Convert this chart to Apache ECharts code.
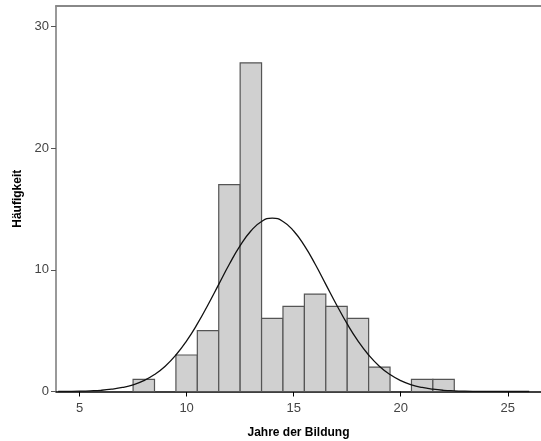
<!DOCTYPE html>
<html>
<head>
<meta charset="utf-8">
<script src="https://cdn.jsdelivr.net/npm/echarts@6/dist/echarts.min.js"></script>
<style>
  html, body { margin: 0; padding: 0; background: #fff; }
  #chart { width: 541px; height: 441px; }
</style>
</head>
<body>
<div id="chart"></div>
<script>
// Jahre der Bildung (Klassenmitte) und Häufigkeit
const years = [8, 10, 11, 12, 13, 14, 15, 16, 17, 18, 19, 21, 22]
const counts = [1, 3, 5, 17, 27, 6, 7, 8, 7, 6, 2, 1, 1]

// Normalverteilungskurve
const curveX = [4, 4.5, 5, 5.5, 6, 6.5, 7, 7.5, 8, 8.5, 9, 9.5, 10, 10.5, 11, 11.5, 12, 12.5, 13, 13.5, 14,
  14.5, 15, 15.5, 16, 16.5, 17, 17.5, 18, 18.5, 19, 19.5, 20, 20.5, 21, 21.5, 22, 22.5, 23, 23.5, 24, 25, 26]
const curveY = [0.007, 0.014, 0.028, 0.055, 0.10, 0.19, 0.33, 0.55, 0.89, 1.39, 2.08, 3.00, 4.16, 5.55, 7.13,
  8.80, 10.47, 11.98, 13.19, 13.97, 14.24, 13.97, 13.19, 11.98, 10.47, 8.80, 7.13, 5.55, 4.16, 3.00, 2.08,
  1.39, 0.89, 0.55, 0.33, 0.19, 0.10, 0.055, 0.028, 0.014, 0.007, 0.0013, 0.0002]

const xTicks = [5, 10, 15, 20, 25]
const yTicks = [0, 10, 20, 30]

const chart = echarts.init(document.getElementById('chart'))

const labelStyle = {
  color: '#444',
  fontSize: 13,
  fontFamily: 'Liberation Sans, Arial, sans-serif',
}

const option = {
  animation: false,
  grid: { left: 56, right: 0, top: 6, bottom: 49.5, outerBoundsMode: 'none', containLabel: false },
  xAxis: [
    {
      type: 'value',
      min: 3.9,
      max: 26.55,
      name: 'Jahre der Bildung',
      nameLocation: 'middle',
      nameGap: 35,
      nameTextStyle: {
        color: '#000',
        fontSize: 12,
        fontWeight: 'bold',
        fontFamily: 'Liberation Sans, Arial, sans-serif',
      },
      axisLine: { show: true, onZero: false, lineStyle: { color: '#000', width: 1.5 } },
      axisTick: {
        show: true,
        length: 5,
        lineStyle: { color: '#000' },
        customValues: xTicks,
      },
      axisLabel: {
        ...labelStyle,
        margin: 10,
        customValues: xTicks,
      },
      splitLine: { show: false },
    },
    {
      // obere Rahmenlinie
      type: 'value',
      position: 'top',
      min: 3.9,
      max: 26.55,
      axisLine: { show: true, onZero: false, lineStyle: { color: '#888', width: 2 } },
      axisTick: { show: false },
      axisLabel: { show: false },
      splitLine: { show: false },
    },
  ],
  yAxis: {
    type: 'value',
    min: 0,
    max: 31.67,
    name: 'Häufigkeit',
    nameLocation: 'middle',
    nameGap: 31,
    nameRotate: 90,
    nameTextStyle: {
      color: '#000',
      fontSize: 12,
      fontWeight: 'bold',
      fontFamily: 'Liberation Sans, Arial, sans-serif',
    },
    axisLine: { show: true, lineStyle: { color: '#777', width: 1.5 } },
    axisTick: {
      show: true,
      length: 5,
      lineStyle: { color: '#555' },
      customValues: yTicks,
    },
    axisLabel: {
      ...labelStyle,
      margin: 7,
      customValues: yTicks,
    },
    splitLine: { show: false },
  },
  series: [
    {
      type: 'custom',
      xAxisIndex: 0,
      data: years.map((y, i) => [y, counts[i]]),
      renderItem: (params, api) => {
        const x = api.value(0)
        const v = api.value(1)
        const p0 = api.coord([x - 0.5, v])
        const p1 = api.coord([x + 0.5, 0])
        return {
          type: 'rect',
          shape: { x: p0[0], y: p0[1], width: p1[0] - p0[0], height: p1[1] - p0[1] },
          style: { fill: '#d0d0d0', stroke: '#555', lineWidth: 1.2 },
        }
      },
      z: 2,
    },
    {
      type: 'line',
      xAxisIndex: 0,
      data: curveX.map((x, i) => [x, curveY[i]]),
      smooth: true,
      showSymbol: false,
      lineStyle: { color: '#111', width: 1.3 },
      z: 3,
    },
  ],
}

chart.setOption(option)
</script>
</body>
</html>
